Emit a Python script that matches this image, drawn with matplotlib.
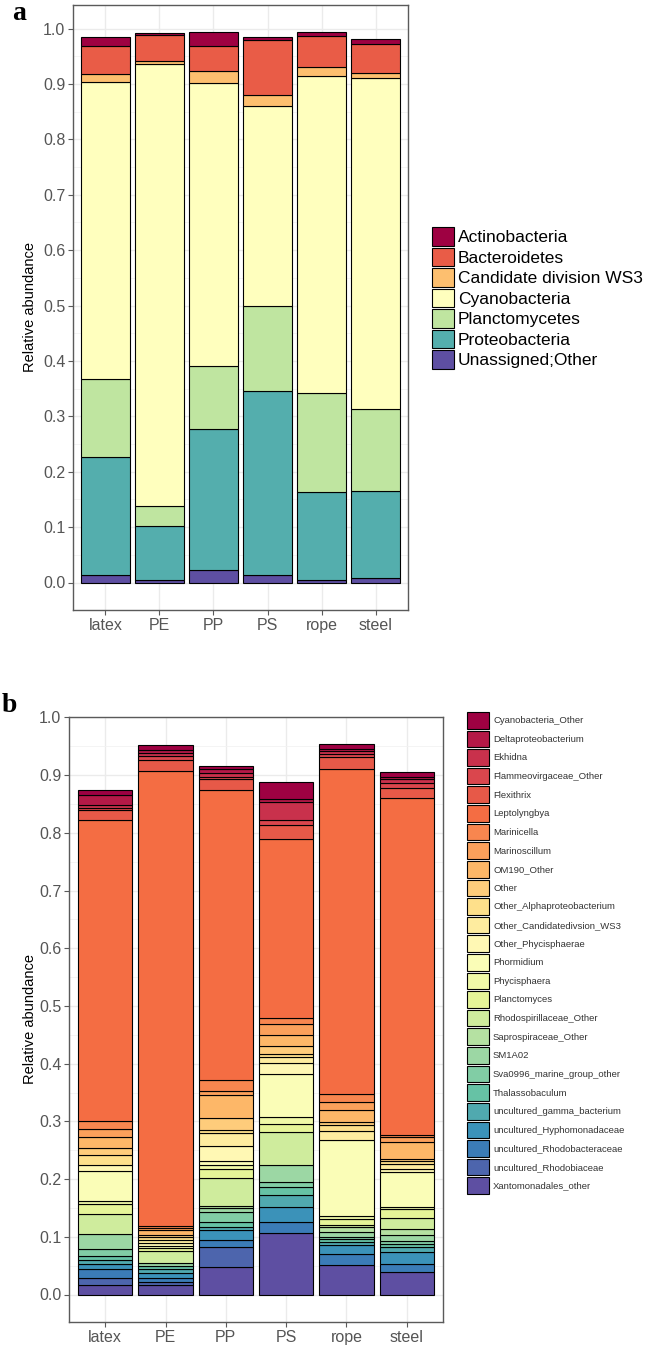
import numpy as np
import matplotlib
matplotlib.use('Agg')
import matplotlib.pyplot as plt
from matplotlib.colors import LinearSegmentedColormap
from matplotlib.patches import Patch
from matplotlib.ticker import MultipleLocator

plt.rcParams['font.family'] = ['Liberation Sans', 'DejaVu Sans']

samples = ['latex', 'PE', 'PP', 'PS', 'rope', 'steel']

# panel a: phylum level (stack order top -> bottom)
phyla = ['Actinobacteria', 'Bacteroidetes', 'Candidate division WS3', 'Cyanobacteria',
         'Planctomycetes', 'Proteobacteria', 'Unassigned;Other']
actinobacteria = [0.016, 0.005, 0.024, 0.005, 0.006, 0.009]
bacteroidetes = [0.050, 0.047, 0.046, 0.099, 0.057, 0.054]
ws3 = [0.014, 0.005, 0.021, 0.020, 0.015, 0.008]
cyanobacteria = [0.537, 0.798, 0.512, 0.360, 0.573, 0.598]
planctomycetes = [0.140, 0.036, 0.113, 0.155, 0.178, 0.147]
proteobacteria = [0.214, 0.097, 0.254, 0.332, 0.159, 0.157]
unassigned = [0.013, 0.005, 0.023, 0.013, 0.005, 0.009]
phylum_vals = [actinobacteria, bacteroidetes, ws3, cyanobacteria,
               planctomycetes, proteobacteria, unassigned]

# panel b: genus level, one list per sample in the order of `genera`
genera = ['Cyanobacteria_Other', 'Deltaproteobacterium', 'Ekhidna', 'Flammeovirgaceae_Other',
          'Flexithrix', 'Leptolyngbya', 'Marinicella', 'Marinoscillum', 'OM190_Other', 'Other',
          'Other_Alphaproteobacterium', 'Other_Candidatedivsion_WS3', 'Other_Phycisphaerae',
          'Phormidium', 'Phycisphaera', 'Planctomyces', 'Rhodospirillaceae_Other',
          'Saprospiraceae_Other', 'SM1A02', 'Sva0996_marine_group_other', 'Thalassobaculum',
          'uncultured_gamma_bacterium', 'uncultured_Hyphomonadaceae',
          'uncultured_Rhodobacteraceae', 'uncultured_Rhodobiaceae', 'Xantomonadales_other']
latex_g = [0.009, 0.016, 0.006, 0.004, 0.017, 0.521, 0.015, 0.013, 0.020, 0.012, 0.017, 0.000, 0.010,
           0.052, 0.006, 0.016, 0.036, 0.000, 0.026, 0.012, 0.007, 0.007, 0.007, 0.017, 0.011, 0.017]
pe_g = [0.010, 0.004, 0.006, 0.006, 0.020, 0.788, 0.004, 0.004, 0.008, 0.004, 0.004, 0.006, 0.005,
        0.004, 0.000, 0.004, 0.021, 0.000, 0.006, 0.000, 0.004, 0.007, 0.010, 0.006, 0.005, 0.017]
pp_g = [0.005, 0.006, 0.007, 0.003, 0.020, 0.503, 0.018, 0.007, 0.040, 0.021, 0.006, 0.022, 0.026,
        0.006, 0.007, 0.016, 0.048, 0.004, 0.007, 0.018, 0.008, 0.006, 0.017, 0.012, 0.035, 0.047]
ps_g = [0.030, 0.004, 0.032, 0.009, 0.023, 0.311, 0.010, 0.019, 0.020, 0.013, 0.006, 0.010, 0.019,
        0.075, 0.011, 0.015, 0.057, 0.000, 0.029, 0.009, 0.014, 0.020, 0.026, 0.020, 0.000, 0.106]
rope_g = [0.007, 0.005, 0.005, 0.004, 0.021, 0.563, 0.015, 0.014, 0.020, 0.006, 0.010, 0.016, 0.000,
          0.131, 0.005, 0.011, 0.003, 0.009, 0.008, 0.004, 0.005, 0.006, 0.014, 0.020, 0.000, 0.051]
steel_g = [0.008, 0.004, 0.006, 0.009, 0.017, 0.584, 0.004, 0.009, 0.029, 0.004, 0.005, 0.009, 0.005,
           0.060, 0.003, 0.017, 0.019, 0.010, 0.010, 0.006, 0.004, 0.009, 0.022, 0.013, 0.000, 0.039]
genus_by_sample = [latex_g, pe_g, pp_g, ps_g, rope_g, steel_g]

spectral = ['#9E0142', '#D53E4F', '#F46D43', '#FDAE61', '#FEE08B', '#FFFFBF',
            '#E6F598', '#ABDDA4', '#66C2A5', '#3288BD', '#5E4FA2']
ramp = LinearSegmentedColormap.from_list('spec', spectral)


def stacked(ax, cats, vals, colors):
    # vals: per-category list across samples, first category on top
    x = np.arange(1, len(samples) + 1)
    bottom = np.zeros(len(samples))
    for i in range(len(cats) - 1, -1, -1):
        h = np.array(vals[i])
        keep = h > 0
        ax.bar(x[keep], h[keep], 0.9, bottom=bottom[keep], color=colors[i],
               edgecolor='black', linewidth=0.8, zorder=3)
        bottom += h


def style(ax, ymax):
    ax.set_xlim(0.4, 6.6)
    ax.set_ylim(-0.05 * ymax, ymax * 1.05)
    ax.set_xticks(np.arange(1, 7))
    ax.set_xticklabels(samples)
    ax.yaxis.set_major_locator(MultipleLocator(0.1))
    ax.yaxis.set_minor_locator(MultipleLocator(0.05))
    ax.yaxis.set_major_formatter(lambda v, p: f'{v:.1f}')
    ax.grid(True, which='major', color='#EBEBEB', linewidth=1.0, zorder=0)
    ax.grid(True, which='minor', axis='y', color='#F2F2F2', linewidth=0.6, zorder=0)
    ax.set_axisbelow(True)
    for s in ax.spines.values():
        s.set_color('#5A5A5A')
        s.set_linewidth(1.0)
    ax.tick_params(which='major', length=3.5, width=0.8, color='#5A5A5A',
                   labelcolor='#555555', labelsize=11.5, pad=2)
    ax.tick_params(which='minor', length=0)
    ax.set_ylabel('Relative abundance', fontsize=10.5, va='center')


fig = plt.figure(figsize=(6.46, 13.55), dpi=100)
W, H = 646, 1355

# ---- panel a
axa = fig.add_axes([73 / W, 1 - 610 / H, 335 / W, 605 / H])
cols_a = [ramp(v) for v in np.linspace(0, 1, len(phyla))]
stacked(axa, phyla, phylum_vals, cols_a)
style(axa, 0.993)
axa.yaxis.set_label_coords(-43 / 335, 0.5)
handles_a = [Patch(facecolor=c, edgecolor='black', linewidth=0.8) for c in cols_a]
fs_a = 12.5
fig.legend(handles_a, phyla, loc='upper left', bbox_to_anchor=(432 / W, 1 - 227 / H),
           frameon=False, fontsize=fs_a, borderpad=0, borderaxespad=0,
           handlelength=22 / (fs_a * 100 / 72), handleheight=22 / (fs_a * 100 / 72),
           labelspacing=2 / (fs_a * 100 / 72), handletextpad=4 / (fs_a * 100 / 72))
fig.text(12 / W, 1 - 20 / H, 'a', family='Liberation Serif', weight='bold', fontsize=20,
         va='baseline')

# ---- panel b
axb = fig.add_axes([69 / W, 1 - 1322 / H, 374 / W, 605 / H])
cols_b = [ramp(v) for v in np.linspace(0, 1, len(genera))]
genus_vals = [[genus_by_sample[s][g] for s in range(len(samples))] for g in range(len(genera))]
stacked(axb, genera, genus_vals, cols_b)
style(axb, 0.953)
axb.yaxis.set_label_coords(-39 / 374, 0.5)
handles_b = [Patch(facecolor=c, edgecolor='black', linewidth=0.8) for c in cols_b]
fs_b = 6.8
px_b = fs_b * 100 / 72
fig.legend(handles_b, genera, loc='upper left', bbox_to_anchor=(467 / W, 1 - 712 / H),
           frameon=False, fontsize=fs_b, borderpad=0, borderaxespad=0,
           handlelength=22 / px_b, handleheight=22 / px_b,
           labelspacing=2 / px_b, handletextpad=4 / px_b, labelcolor='#333333')
fig.text(2 / W, 1 - 712 / H, 'b', family='Liberation Serif', weight='bold', fontsize=20,
         va='baseline')

fig.savefig('out.png', dpi=100)
